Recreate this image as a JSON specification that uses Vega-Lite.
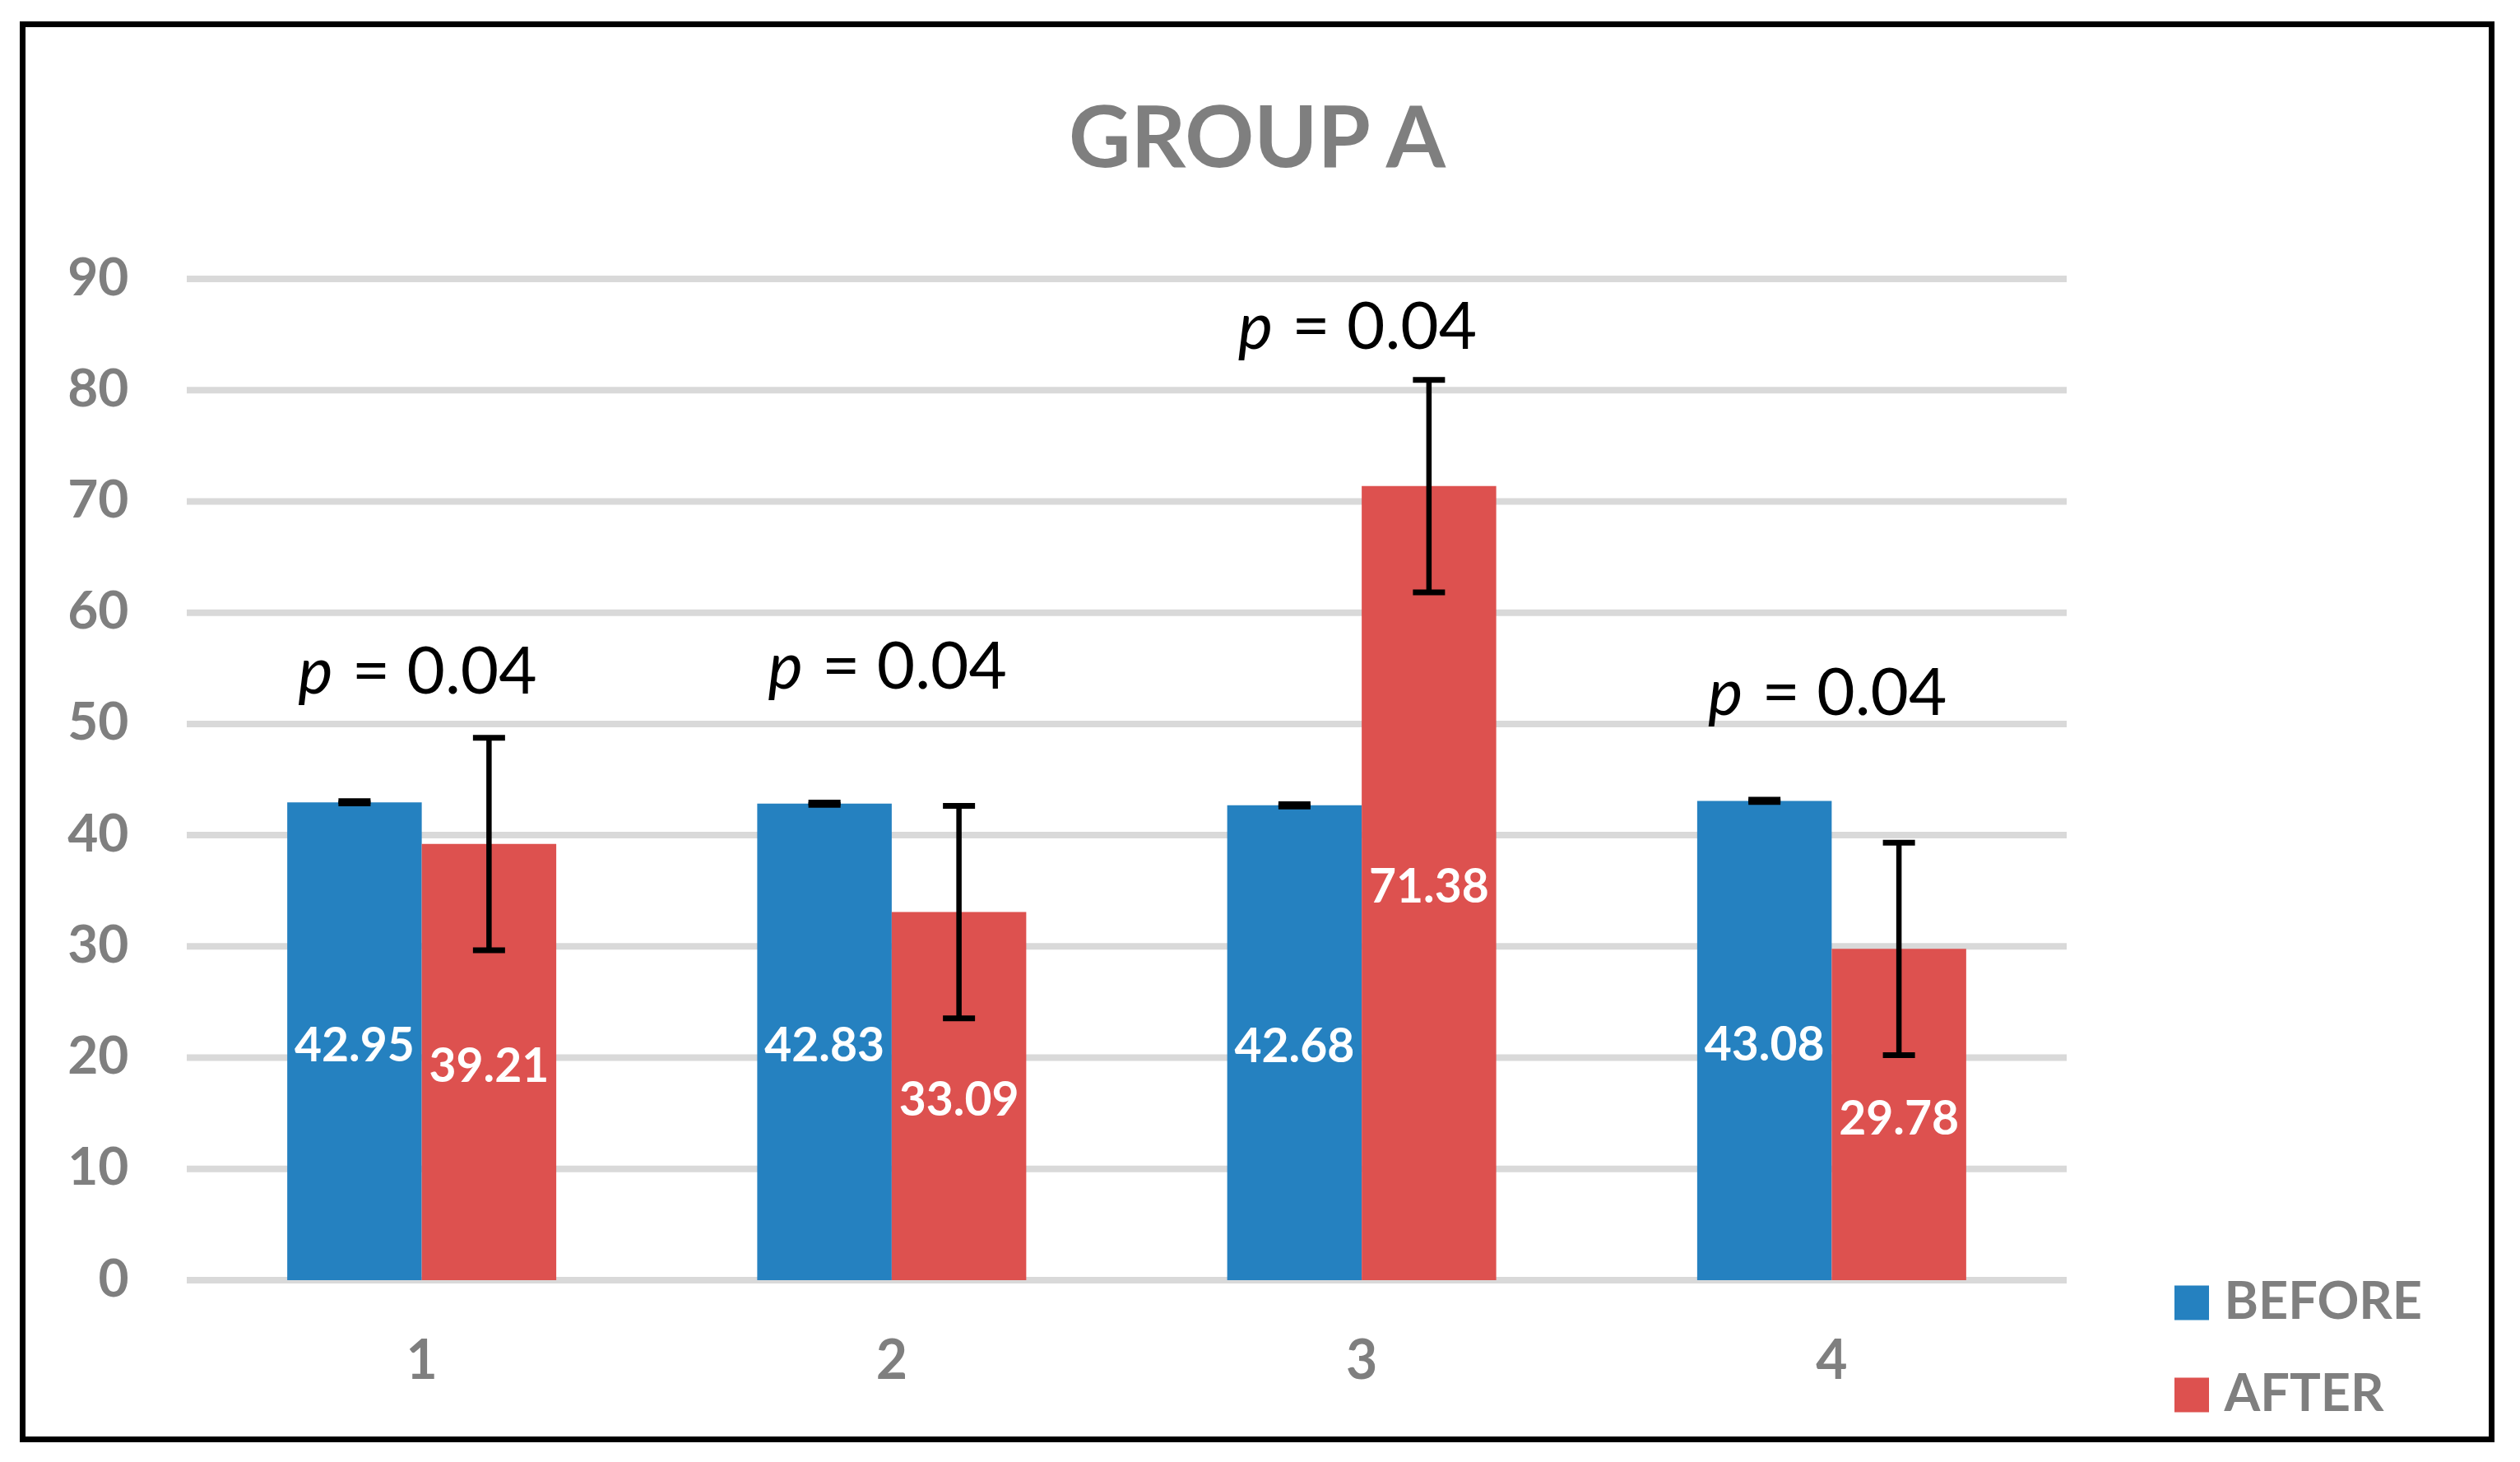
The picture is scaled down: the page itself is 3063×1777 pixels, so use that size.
{
  "$schema": "https://vega.github.io/schema/vega-lite/v6.json",
  "autosize": {"type": "none"},
  "padding": {"left": 27.5, "top": 29.5, "right": 34.5, "bottom": 27.5},
  "width": 3001,
  "height": 1720,
  "background": "white",
  "title": {
    "text": "GROUP A",
    "font": "Lato",
    "fontSize": 104,
    "fontWeight": "bold",
    "color": "#7f7f7f",
    "anchor": "middle",
    "frame": "group",
    "baseline": "alphabetic",
    "offset": -277.5
  },
  "config": {
    "view": {"stroke": "#000000", "strokeWidth": 7, "fill": "white"}
  },
  "datasets": {
    "bars": [
      {"group": "1", "series": "BEFORE", "value": 42.95, "lo": 42.85, "hi": 43.05},
      {"group": "1", "series": "AFTER", "value": 39.21, "lo": 29.66, "hi": 48.76},
      {"group": "2", "series": "BEFORE", "value": 42.83, "lo": 42.73, "hi": 42.93},
      {"group": "2", "series": "AFTER", "value": 33.09, "lo": 23.54, "hi": 42.64},
      {"group": "3", "series": "BEFORE", "value": 42.68, "lo": 42.58, "hi": 42.78},
      {"group": "3", "series": "AFTER", "value": 71.38, "lo": 61.83, "hi": 80.93},
      {"group": "4", "series": "BEFORE", "value": 43.08, "lo": 42.98, "hi": 43.18},
      {"group": "4", "series": "AFTER", "value": 29.78, "lo": 20.23, "hi": 39.33}
    ],
    "grid": [{"v": 0}, {"v": 10}, {"v": 20}, {"v": 30}, {"v": 40}, {"v": 50}, {"v": 60}, {"v": 70}, {"v": 80}, {"v": 90}],
    "pvals": [
      {"group": "1", "y": 52.7, "label": "= 0.04"},
      {"group": "2", "y": 53.2, "label": "= 0.04"},
      {"group": "3", "y": 83.7, "label": "= 0.04"},
      {"group": "4", "y": 50.8, "label": "= 0.04"}
    ]
  },
  "layer": [
    {
      "data": {"name": "grid"},
      "mark": {"type": "rule", "color": "#d9d9d9", "strokeWidth": 8},
      "encoding": {
        "x": {"datum": 0, "type": "quantitative", "scale": {"domain": [0, 4], "range": [199.5, 2484.5], "nice": false, "zero": false}, "axis": null},
        "x2": {"datum": 4},
        "y": {"field": "v", "type": "quantitative", "scale": {"domain": [0, 90], "range": [1526.5, 309.5], "nice": false, "zero": false}, "axis": null}
      }
    },
    {
      "data": {"name": "bars"},
      "mark": {"type": "bar"},
      "encoding": {
        "x": {
          "field": "group", "type": "nominal",
          "scale": {"range": [199.5, 2484.5], "paddingInner": 0.4276, "paddingOuter": 0.2138},
          "axis": {
            "orient": "bottom", "offset": -193.5, "domain": false, "ticks": false, "tickSize": 0,
            "grid": false, "labelPadding": 119, "labelBaseline": "alphabetic", "labelAngle": 0,
            "labelFont": "Lato", "labelFontSize": 66, "labelFontWeight": "bold", "labelColor": "#7f7f7f",
            "title": null
          }
        },
        "xOffset": {"field": "series", "type": "nominal", "scale": {"domain": ["BEFORE", "AFTER"]}},
        "y": {
          "field": "value", "type": "quantitative",
          "scale": {"domain": [0, 90], "range": [1526.5, 309.5], "nice": false, "zero": false},
          "axis": {
            "orient": "left", "offset": -128.5, "domain": false, "ticks": false, "tickSize": 0,
            "grid": false, "labelPadding": 0, "values": [0, 10, 20, 30, 40, 50, 60, 70, 80, 90],
            "labelFont": "Lato", "labelFontSize": 64, "labelFontWeight": "bold", "labelColor": "#7f7f7f",
            "labelBaseline": "middle", "title": null
          }
        },
        "color": {
          "field": "series", "type": "nominal",
          "scale": {"domain": ["BEFORE", "AFTER"], "range": ["#2581c0", "#dd514f"]},
          "legend": {
            "orient": "none", "legendX": 2605, "legendY": 1522.5, "direction": "vertical",
            "title": null, "symbolType": "square", "symbolSize": 1764, "symbolStrokeWidth": 0,
            "labelFont": "Lato", "labelFontSize": 63, "labelFontWeight": "bold", "labelColor": "#7f7f7f",
            "labelOffset": 8, "labelLimit": 0, "rowPadding": 48, "padding": 0
          }
        }
      }
    },
    {
      "data": {"name": "bars"},
      "mark": {"type": "rule", "color": "#000000", "strokeWidth": 6.5},
      "encoding": {
        "x": {"field": "group", "type": "nominal", "scale": {"range": [199.5, 2484.5], "paddingInner": 0.4276, "paddingOuter": 0.2138}, "axis": null},
        "xOffset": {"field": "series", "type": "nominal", "scale": {"domain": ["BEFORE", "AFTER"]}},
        "y": {"field": "lo", "type": "quantitative", "scale": {"domain": [0, 90], "range": [1526.5, 309.5], "nice": false, "zero": false}, "axis": null},
        "y2": {"field": "hi"}
      }
    },
    {
      "data": {"name": "bars"},
      "mark": {"type": "tick", "color": "#000000", "thickness": 7, "size": 39, "opacity": 1},
      "encoding": {
        "x": {"field": "group", "type": "nominal", "scale": {"range": [199.5, 2484.5], "paddingInner": 0.4276, "paddingOuter": 0.2138}, "axis": null},
        "xOffset": {"field": "series", "type": "nominal", "scale": {"domain": ["BEFORE", "AFTER"]}},
        "y": {"field": "lo", "type": "quantitative", "scale": {"domain": [0, 90], "range": [1526.5, 309.5], "nice": false, "zero": false}, "axis": null}
      }
    },
    {
      "data": {"name": "bars"},
      "mark": {"type": "tick", "color": "#000000", "thickness": 7, "size": 39, "opacity": 1},
      "encoding": {
        "x": {"field": "group", "type": "nominal", "scale": {"range": [199.5, 2484.5], "paddingInner": 0.4276, "paddingOuter": 0.2138}, "axis": null},
        "xOffset": {"field": "series", "type": "nominal", "scale": {"domain": ["BEFORE", "AFTER"]}},
        "y": {"field": "hi", "type": "quantitative", "scale": {"domain": [0, 90], "range": [1526.5, 309.5], "nice": false, "zero": false}, "axis": null}
      }
    },
    {
      "data": {"name": "bars"},
      "mark": {"type": "text", "font": "Lato", "fontSize": 57, "fontWeight": "bold", "color": "#ffffff", "align": "center", "baseline": "middle", "dy": 7},
      "encoding": {
        "x": {"field": "group", "type": "nominal", "scale": {"range": [199.5, 2484.5], "paddingInner": 0.4276, "paddingOuter": 0.2138}, "axis": null},
        "xOffset": {"field": "series", "type": "nominal", "scale": {"domain": ["BEFORE", "AFTER"]}},
        "y": {"field": "value", "type": "quantitative", "scale": {"domain": [0, 180], "range": [1526.5, 309.5], "nice": false, "zero": false}, "axis": null},
        "text": {"field": "value", "type": "quantitative", "format": ".2f"}
      }
    },
    {
      "data": {"name": "pvals"},
      "mark": {"type": "text", "font": "Lato", "fontSize": 80, "fontStyle": "italic", "color": "#000000", "align": "right", "baseline": "alphabetic", "dx": -108},
      "encoding": {
        "x": {"field": "group", "type": "nominal", "scale": {"range": [199.5, 2484.5], "paddingInner": 0.4276, "paddingOuter": 0.2138}, "axis": null},
        "y": {"field": "y", "type": "quantitative", "scale": {"domain": [0, 90], "range": [1526.5, 309.5], "nice": false, "zero": false}, "axis": null},
        "text": {"value": "p"}
      }
    },
    {
      "data": {"name": "pvals"},
      "mark": {"type": "text", "font": "Lato", "fontSize": 80, "color": "#000000", "align": "left", "baseline": "alphabetic", "dx": -85},
      "encoding": {
        "x": {"field": "group", "type": "nominal", "scale": {"range": [199.5, 2484.5], "paddingInner": 0.4276, "paddingOuter": 0.2138}, "axis": null},
        "y": {"field": "y", "type": "quantitative", "scale": {"domain": [0, 90], "range": [1526.5, 309.5], "nice": false, "zero": false}, "axis": null},
        "text": {"field": "label", "type": "nominal"}
      }
    }
  ],
  "resolve": {"scale": {"x": "independent", "y": "independent"}}
}
